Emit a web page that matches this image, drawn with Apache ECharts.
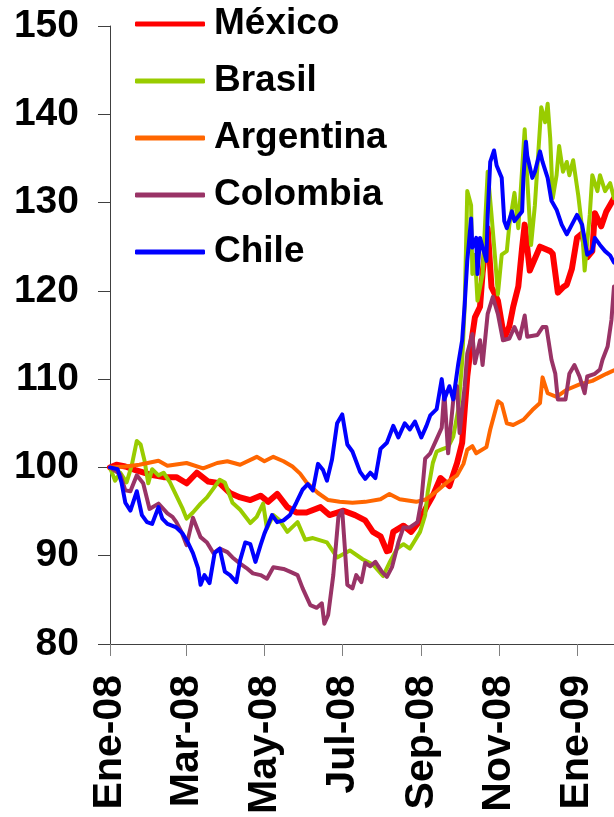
<!DOCTYPE html>
<html>
<head>
<meta charset="utf-8">
<script src="https://cdn.jsdelivr.net/npm/echarts@6/dist/echarts.min.js"></script>
<style>
html,body{margin:0;padding:0;background:#fff;}
#chart{width:614px;height:817px;}
</style>
</head>
<body>
<div id="chart"></div>
<script>
// x values are days since 2008-01-01
const seriesNames = ['México', 'Brasil', 'Argentina', 'Colombia', 'Chile'];
const monthNames = ['Ene','Feb','Mar','Abr','May','Jun','Jul','Ago','Sep','Oct','Nov','Dic'];
const labelMonths = [0, 2, 4, 6, 8, 10];
const yTicks = { min: 80, max: 150, interval: 10 };

const mexico = [[0,100],[5,100.3],[12,100.1],[20,99.7],[31,99.2],[42,98.9],[52,98.9],[60,98.2],[68,99.4],[77,98.4],[86,98.2],[94,97.1],[102,96.6],[110,96.3],[118,96.8],[124,96.1],[131,97.0],[139,95.5],[146,94.9],[154,94.9],[165,95.5],[172,94.6],[183,95.1],[192,94.6],[200,94.0],[206,92.7],[212,92.2],[217,90.5],[219,90.6],[222,92.7],[230,93.4],[236,92.7],[242,93.8],[248,95.5],[253,96.8],[259,98.8],[266,97.9],[272,100.5],[276,102.8],[278,106.6],[280,110.3],[283,114],[286,117],[290,118.2],[292,122],[296,127.1],[299,120.4],[304,118.9],[309,114.6],[313,116],[316,118.2],[320,120.5],[323,124.9],[325,127.5],[329,122.3],[337,125.0],[345,124.5],[347,124.2],[351,119.8],[355,120.4],[358,120.7],[362,122.5],[366,126.0],[370,126.5],[374,123.8],[378,124.5],[380,128.8],[385,127.3],[389,129.0],[395,130.5]];

const brasil = [[0,100],[4,98.5],[8,99.4],[13,98.3],[17,100.2],[21,103.0],[24,102.6],[27,100.8],[30,98.2],[33,99.8],[38,99.1],[42,99.4],[47,98.3],[52,96.8],[57,95.3],[60,94.2],[65,94.9],[71,95.9],[76,96.6],[81,97.6],[86,98.6],[90,98.3],[96,96.0],[102,95.2],[110,93.7],[115,94.4],[120,95.9],[123,93.1],[128,94.6],[133,94.0],[139,92.7],[147,93.8],[153,91.8],[159,92.0],[170,91.5],[178,89.8],[188,90.6],[198,89.6],[206,89.0],[214,87.7],[219,89.2],[225,90.8],[230,91.3],[235,90.8],[238,91.5],[243,92.7],[247,94.6],[249,97.2],[253,100.5],[256,101.8],[261,102.1],[265,102.3],[269,103.5],[273,106.6],[276,112],[278,118.3],[280,131.3],[283,129.7],[284,121.9],[286,124.1],[288,118.9],[292,121.9],[296,133.5],[299,128.6],[302,123.4],[304,119.6],[307,124.1],[311,124.5],[313,127.5],[317,131.1],[320,127.1],[325,138.3],[327,132.7],[330,125.2],[333,129.7],[338,140.8],[341,139.1],[343,141.2],[345,137.3],[347,130.5],[350,133.1],[352,136.4],[355,133.5],[358,134.6],[360,133.1],[363,134.8],[367,130.8],[370,127.1],[372,122.3],[376,128.6],[378,133.1],[382,131.3],[384,133.1],[388,131.3],[392,132.2],[395,130.5]];

const argentina = [[0,100],[12,100.1],[23,100.3],[38,100.75],[45,100.2],[60,100.5],[73,99.9],[84,100.5],[92,100.7],[102,100.3],[115,101.2],[121,100.7],[128,101.2],[136,100.7],[143,100.1],[149,99.3],[154,98.3],[163,97.1],[171,96.3],[180,96.1],[190,96.0],[200,96.1],[212,96.4],[219,97.0],[227,96.4],[240,96.1],[248,96.4],[256,97.3],[264,98.3],[272,99.1],[277,100.4],[280,102.0],[284,102.4],[287,101.6],[295,102.3],[298,104.3],[304,107.5],[307,107.2],[311,105.0],[316,104.8],[324,105.4],[331,106.5],[337,107.3],[339,110.2],[343,108.4],[350,108.0],[358,108.8],[368,109.4],[378,109.8],[389,110.6],[395,111.0]];

const colombia = [[0,100],[4,99.6],[8,99.2],[12,97.4],[16,97.3],[21,99.1],[26,98.2],[31,95.3],[38,95.9],[45,94.8],[49,94.4],[52,93.8],[56,92.7],[60,91.2],[65,94.3],[71,92.1],[76,91.5],[81,90.3],[86,90.8],[92,90.4],[96,89.8],[102,89.1],[107,88.6],[112,88.0],[118,87.8],[123,87.4],[128,88.7],[136,88.5],[141,88.2],[147,87.8],[151,86.3],[157,84.4],[162,84.1],[166,84.6],[168,82.3],[171,83.3],[175,87.8],[179,94.4],[182,95.1],[184,91.0],[186,86.7],[190,86.3],[193,87.8],[197,87.0],[200,89.2],[204,88.8],[208,89.3],[213,88.2],[217,87.6],[221,88.7],[226,91.5],[230,93.2],[235,93.2],[241,93.8],[244,96.2],[247,101.0],[251,101.6],[256,103.2],[260,104.5],[262,108.6],[265,101.6],[269,107.6],[272,109.2],[274,103.9],[278,109.2],[280,112.9],[284,115.1],[286,111.8],[290,114.4],[292,111.6],[296,117.4],[300,119.3],[304,117.4],[308,114.4],[313,114.6],[317,115.9],[321,114.6],[325,117.2],[327,114.8],[335,115.0],[339,115.9],[342,115.9],[346,112.2],[349,110.6],[351,107.7],[357,107.7],[360,110.6],[364,111.6],[368,110.3],[372,108.4],[374,110.3],[380,110.6],[384,111.1],[386,112.2],[390,113.7],[393,116.7],[395,120.5]];

const chile = [[0,100],[6,99.8],[9,98.3],[12,96.0],[16,95.1],[21,97.3],[25,94.6],[29,93.8],[33,93.6],[38,95.5],[41,94.2],[45,93.6],[52,93.2],[57,92.5],[61,91.5],[65,90.3],[69,88.6],[71,86.7],[74,87.8],[78,86.9],[82,90.3],[86,90.8],[90,88.2],[94,87.8],[99,87.0],[102,89.5],[106,91.5],[110,91.3],[114,89.3],[118,91.2],[121,92.5],[127,94.6],[131,93.8],[136,94.0],[141,94.6],[146,96.0],[151,97.5],[155,98.1],[159,97.4],[163,100.4],[167,99.7],[170,98.5],[174,100.9],[178,105.0],[182,106.0],[186,102.6],[190,101.8],[196,99.5],[200,98.7],[204,99.4],[208,98.8],[212,102.1],[217,102.8],[222,104.7],[226,103.4],[231,105.0],[235,104.3],[239,105.2],[244,103.4],[248,104.7],[251,105.9],[256,106.6],[260,110.0],[262,107.7],[266,109.2],[269,107.7],[273,111.8],[276,114.4],[278,118.5],[280,123.4],[283,128.2],[284,124.9],[287,126.0],[288,121.9],[290,126.0],[295,123.4],[296,128.6],[298,134.6],[301,135.9],[303,134.2],[307,132.8],[309,127.9],[311,127.1],[315,129.0],[317,127.9],[323,129.0],[324,132.8],[326,136.9],[327,135.3],[331,132.8],[333,133.5],[337,135.8],[339,134.6],[343,132.8],[346,130.2],[350,129.2],[354,127.5],[358,126.4],[362,127.5],[366,128.6],[370,127.5],[374,124.1],[378,124.5],[380,126.0],[384,125.2],[388,124.5],[392,124.0],[395,123.2]];

const colors = ['#FF0000', '#99CC00', '#FF6600', '#993366', '#0000FF'];
const widths = [6, 4, 4, 4, 4];
const allData = [mexico, brasil, argentina, colombia, chile];

// daily categories from 2008-01-01 to 2009-01-30
const days = [];
for (let i = 0; i <= 395; i++) {
  const d = new Date(Date.UTC(2008, 0, 1 + i));
  days.push(d.toISOString().slice(0, 10));
}
function isLabelDay(idx, value) {
  const m = parseInt(value.slice(5, 7), 10) - 1;
  return value.slice(8, 10) === '01' && labelMonths.indexOf(m) >= 0;
}

const FONT = '"Liberation Sans", Arial, sans-serif';
const chart = echarts.init(document.getElementById('chart'), null, { renderer: 'canvas' });
chart.setOption({
  animation: false,
  backgroundColor: '#ffffff',
  grid: { left: 110, right: 0, top: 26, bottom: 168, containLabel: false },
  legend: {
    orient: 'vertical',
    left: 135,
    top: 4,
    padding: 0,
    itemWidth: 70,
    itemHeight: 5,
    itemGap: 17,
    icon: 'roundRect',
    data: seriesNames.map((n, i) => ({ name: n, itemStyle: { color: colors[i] } })),
    textStyle: { fontFamily: FONT, fontWeight: 'bold', fontSize: 37, lineHeight: 40, color: '#000', padding: [0, 0, 0, 4] }
  },
  xAxis: {
    type: 'category',
    data: days,
    boundaryGap: false,
    axisLine: { lineStyle: { color: '#404040', width: 1 } },
    axisTick: { show: true, interval: isLabelDay, length: 12, lineStyle: { color: '#808080' } },
    axisLabel: {
      interval: isLabelDay,
      rotate: 90,
      margin: 31,
      fontFamily: FONT, fontWeight: 'bold', fontSize: 41, color: '#000',
      formatter: function (v) {
        const m = parseInt(v.slice(5, 7), 10) - 1;
        return monthNames[m] + '-' + v.slice(2, 4);
      }
    },
    splitLine: { show: false }
  },
  yAxis: {
    type: 'value',
    min: yTicks.min, max: yTicks.max, interval: yTicks.interval,
    axisLine: { show: true, lineStyle: { color: '#404040', width: 1 } },
    axisTick: { show: true, length: 12, lineStyle: { color: '#404040' } },
    axisLabel: { margin: 31, fontFamily: FONT, fontWeight: 'bold', fontSize: 39, color: '#000' },
    splitLine: { show: false }
  },
  series: seriesNames.map((n, i) => ({
    name: n,
    type: 'line',
    data: allData[i],
    symbol: 'none',
    color: colors[i],
    lineStyle: { color: colors[i], width: widths[i], join: 'round', cap: 'round' },
    z: 2 + i
  }))
});
</script>
</body>
</html>
